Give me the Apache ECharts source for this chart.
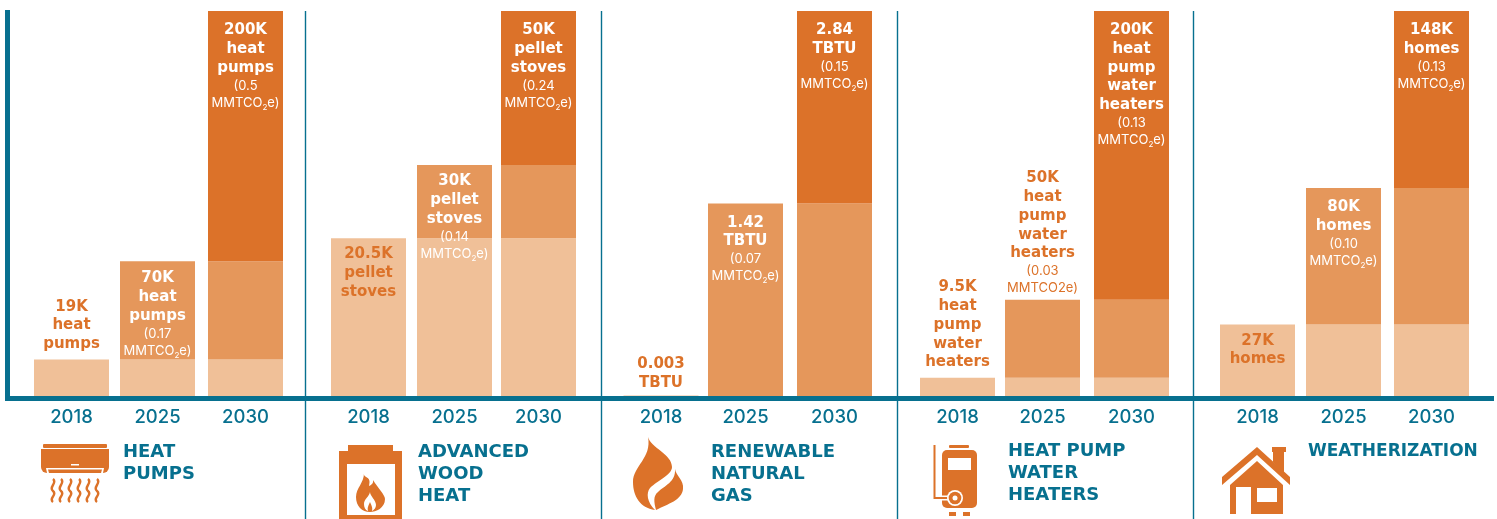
<!DOCTYPE html>
<html><head><meta charset="utf-8">
<style>html,body{margin:0;padding:0;background:#fff}#c{width:1497px;height:519px}</style>
<script src="https://cdn.jsdelivr.net/npm/echarts@6/dist/echarts.min.js"></script>
</head><body><div id="c"></div>
<script>
// ---- data ----
const years = ['2018','2025','2030'];
const panelTitles = ['HEAT\nPUMPS','ADVANCED\nWOOD\nHEAT','RENEWABLE\nNATURAL\nGAS','HEAT PUMP\nWATER\nHEATERS','WEATHERIZATION'];
const heatPumpValues = [19,70,200];
const woodValues = [20.5,30,50];
const gasValues = [0.003,1.42,2.84];
const waterHeaterValues = [9.5,50,200];
const weatherValues = [27.5,80,148];
const heatPumpText = ['19K\nheat\npumps','70K\nheat\npumps','200K\nheat\npumps'];
const woodText = ['20.5K\npellet\nstoves','30K\npellet\nstoves','50K\npellet\nstoves'];
const gasText = ['0.003\nTBTU','1.42\nTBTU','2.84\nTBTU'];
const waterHeaterText = ['9.5K\nheat\npump\nwater\nheaters','50K\nheat\npump\nwater\nheaters','200K\nheat\npump\nwater\nheaters'];
const weatherText = ['27K\nhomes','80K\nhomes','148K\nhomes'];
const heatPumpCO2 = [null,'0.17','0.5'];
const woodCO2 = [null,'0.14','0.24'];
const gasCO2 = [null,'0.07','0.15'];
const waterHeaterCO2 = [null,'0.03','0.13'];
const weatherCO2 = [null,'0.10','0.13'];

// ---- layout & style ----
const TEAL='#07708f', DARK='#dc7229', MID='#e5975b', LIGHT='#f0c098';
const layers=[LIGHT,MID,DARK];
const values=[heatPumpValues,woodValues,gasValues,waterHeaterValues,weatherValues];
const texts=[heatPumpText,woodText,gasText,waterHeaterText,weatherText];
const co2=[heatPumpCO2,woodCO2,gasCO2,waterHeaterCO2,weatherCO2];
const centers=[[71.5,157.5,245.5],[368.5,454.5,538.5],[661,745.5,834.5],[957.5,1042.5,1131.5],[1257.5,1343.5,1431.5]];
const titleX=[123,418,711,1008,1308];
const titleY=[441,441,441,440,441];
const titleSize=[18,18,18,18,17];
const dividers=[305.5,601.5,897.5,1193.5];
// label colour/placement per bar: o = orange above bar, i = orange inside, w = white inside
const placement=[['o','w','w'],['i','w','w'],['o','w','w'],['o','o','w'],['i','w','w']];
const labelGap=[[6,8,10],[7,7,10],[3,10,10],[6,3,10],[7,10,10]];
const BOLD='DejaVu Sans', REG='Inter';

function richFor(color){
  return {
    b:{fontFamily:BOLD,fontWeight:'bold',fontSize:15,lineHeight:18.7,color:color},
    s:{fontFamily:REG,fontWeight:400,fontSize:13,lineHeight:17,color:color},
    sub:{fontFamily:REG,fontWeight:400,fontSize:8,lineHeight:17,verticalAlign:'bottom',color:color}
  };
}
function labelFor(p,k){
  const lines=texts[p][k].split('\n').map(t=>`{b|${t}}`);
  if(co2[p][k]){
    lines.push(`{s|(${co2[p][k]}}`);
    if(p===3&&k===1) lines.push('{s|MMTCO2e)}');
    else lines.push('{s|MMTCO}{sub|2}{s|e)}');
  }
  const kind=placement[p][k];
  return {
    show:true,
    position:kind==='o'?'top':'insideTop',
    distance:labelGap[p][k],
    formatter:lines.join('\n'),
    align:'center',
    rich:richFor(kind==='w'?'#fff':DARK)
  };
}

const grid=[{left:7.5,top:12.5,width:1484,height:386}];
const xAxis=[{gridIndex:0,type:'value',min:0,max:1,axisTick:{show:false},axisLabel:{show:false},splitLine:{show:false},
  axisLine:{show:true,onZero:false,lineStyle:{color:TEAL,width:5,cap:'square'}},z:5}];
const yAxis=[{gridIndex:0,type:'value',min:0,max:1,axisTick:{show:false},axisLabel:{show:false},splitLine:{show:false},
  axisLine:{show:true,onZero:false,lineStyle:{color:TEAL,width:5,cap:'square'}},z:5}];
const series=[];
values.forEach((vals,p)=>{
  vals.forEach((v,k)=>{
    const g=grid.length;
    grid.push({left:centers[p][k]-43,width:86,top:11,height:385});
    xAxis.push({gridIndex:g,type:'category',data:[years[k]],axisLine:{show:false},axisTick:{show:false},
      axisLabel:{margin:12,color:TEAL,fontFamily:REG,fontWeight:500,fontSize:18.5,interval:0}});
    yAxis.push({gridIndex:g,type:'value',min:0,max:vals[2],show:false});
    // a base layer too thin to see (under a pixel) is not drawn under the later bars
    const thinBase=vals[0]/vals[2]<0.01;
    for(let l=0;l<=k;l++){
      if(l===0&&k>0&&thinBase) continue;
      series.push({
        type:'bar',xAxisIndex:g,yAxisIndex:g,stack:'s'+g,barWidth:75,
        name:panelTitles[p].replace(/\n/g,' ')+' '+years[k],
        data:[l===0?vals[0]:vals[l]-(l===1&&thinBase?0:vals[l-1])],
        itemStyle:{color:layers[l]},silent:true,animation:false,
        label:l===k?labelFor(p,k):{show:false}
      });
    }
  });
});

// ---- decorative icons ----
const fill={fill:DARK}, white={fill:'#fff'};
function rect(x,y,w,h,style,r){return {type:'rect',shape:{x,y,width:w,height:h,r:r||0},style};}
function path(d,style){return {type:'path',shape:{pathData:d},style};}
function icon(x,y,children){return {type:'group',x,y,children};}
const waves=[53,61,70,79,88,97].map(x=>path(`M${x-41} 35 C${x-36} 39 ${x-46} 43 ${x-41} 47 C${x-36} 51 ${x-46} 54 ${x-41} 58`,{fill:'none',stroke:DARK,lineWidth:2.4}));
const icons=[
 icon(41,444,[
   rect(2,0,64,4,fill,1),
   rect(0,5,68,24,fill,[0,0,6,6]),
   rect(30,20,8,1.5,white),
   path('M5 24 L63 24 L62 29 L6 29 Z',white),
   path('M7 25.5 L61 25.5 L60 29 L8 29 Z',fill),
   ...waves]),
 icon(339,445,[
   rect(9,0,45,6,fill),
   rect(0,6,63,68,fill),
   rect(8,19,48,51,white),
   path('M25 28 C24 34 33 30 30 41 C35 39 34 36 34 35 C39 43 46 50 46 54 C46 63 37 67 31 67 C23 67 17 61 17 52 C17 43 25 38 25 28 Z',fill),
   path('M31 47 C31 51 37 55 37 60 C37 63 35 65 33 66 C34 62 32 60 31 57 C30 60 28 62 29 66 C26 65 25 62 25 59 C25 54 30 52 31 47 Z',white)]),
 icon(620,430,[
   path('M28 7 C31 18 52 24 52 37 C52 45 38 50 30 58 C26 63 27 72 35 80 C20 78 13 66 13 52 C13 36 32 28 28 7 Z',fill),
   path('M55 39 C56 46 64 50 63 59 C62 70 48 74 36 80 C34 72 33 66 38 62 C44 56 56 52 55 39 Z',fill)]),
 icon(925,440,[
   rect(24,5,20,3,fill,1),
   rect(17,10,35,58,fill,5),
   rect(23,18,23,12,white),
   rect(24,72,7,4,fill),
   rect(38,72,7,4,fill),
   path('M9.5 5 L9.5 58 L24 58',{fill:'none',stroke:'#fff',lineWidth:5}),
   path('M9.5 5 L9.5 58 L24 58',{fill:'none',stroke:DARK,lineWidth:2}),
   {type:'circle',shape:{cx:30,cy:58,r:8},style:white},
   {type:'circle',shape:{cx:30,cy:58,r:6.3},style:fill},
   {type:'circle',shape:{cx:30,cy:58,r:2.5},style:white}]),
 icon(1215,440,[
   path('M57 7 L71 7 L71 12 L69 12 L69 33 L58 22 L58 12 L57 12 Z',fill),
   path('M42 7 L75 37 L75 45 L42 15 L7 45 L7 37 Z',fill),
   path('M42 21 L68 45 L68 74 L36 74 L36 47 L21 47 L21 74 L15 74 L15 45 Z',fill),
   rect(42,48,20,14,white)])
];
series.push({type:'custom',coordinateSystem:'none',silent:true,data:[0],z:6,
  renderItem:()=>({type:'group',children:icons})});
const graphic=[
  ...dividers.map(x=>({type:'line',shape:{x1:x,y1:11,x2:x,y2:519},style:{stroke:TEAL,lineWidth:1.4},z:1})),
  ...panelTitles.map((t,i)=>({type:'text',x:titleX[i],y:titleY[i],z:10,style:{text:t,fill:TEAL,fontFamily:BOLD,fontWeight:'bold',fontSize:titleSize[i],lineHeight:22,textVerticalAlign:'top'}}))
];

const chart=echarts.init(document.getElementById('c'),null,{renderer:'canvas'});
chart.setOption({animation:false,backgroundColor:'#fff',grid,xAxis,yAxis,series,graphic,tooltip:{show:false},legend:{show:false}});
</script></body></html>
